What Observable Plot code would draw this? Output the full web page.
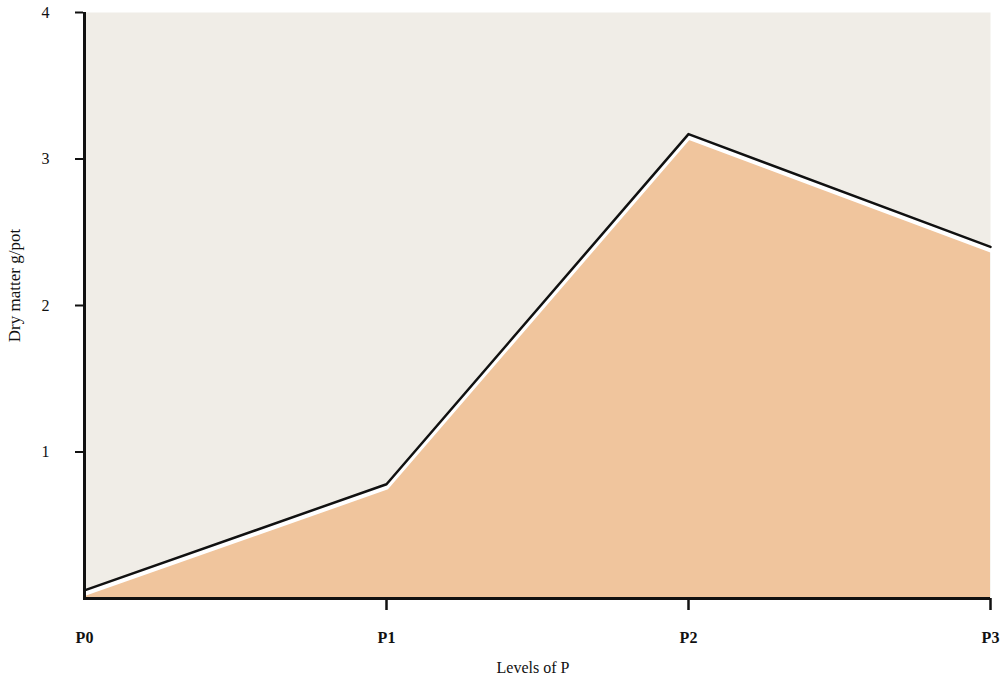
<!DOCTYPE html>
<html>
<head>
<meta charset="utf-8">
<script src="https://cdn.jsdelivr.net/npm/d3@7"></script>
<script src="https://cdn.jsdelivr.net/npm/@observablehq/plot@0.6"></script>
<style>
  html, body { margin: 0; padding: 0; background: #fff; }
  svg { display: block; }
</style>
</head>
<body>
<div id="chart"></div>
<script>
const levels = ["P0", "P1", "P2", "P3"];
const dryMatter = [0.055, 0.78, 3.17, 2.40];
const yTicks = [1, 2, 3, 4];
const data = levels.map((l, i) => ({level: l, value: dryMatter[i]}));

const font = "'Liberation Serif', 'DejaVu Serif', serif";

const chart = Plot.plot({
  width: 1005,
  height: 684,
  marginLeft: 83,
  marginRight: 15,
  marginTop: 12,
  marginBottom: 86,
  style: {fontFamily: font, fontSize: "16px", color: "#111", background: "#fff"},
  x: {type: "point", domain: levels, padding: 0},
  y: {domain: [0, 4]},
  marks: [
    Plot.frame({fill: "#f0ede7", stroke: null}),
    Plot.areaY(data, {x: "level", y: "value", fill: "#f0c59d"}),
    Plot.lineY(data, {x: "level", y: "value", stroke: "#fff", strokeWidth: 5, dy: 3}),
    Plot.lineY(data, {x: "level", y: "value", stroke: "#111", strokeWidth: 2.5}),
    Plot.ruleY([0], {stroke: "#111", strokeWidth: 3}),
    Plot.ruleX([levels[0]], {stroke: "#111", strokeWidth: 3}),
    Plot.axisY({ticks: yTicks, tickSize: 8, tickPadding: 26, tickFormat: d => String(d), label: null, stroke: "#111", strokeWidth: 2, fill: "#111", fontSize: 16}),
    Plot.axisX({ticks: levels.slice(1), tickSize: 12, tickFormat: () => "", label: null, stroke: "#111", strokeWidth: 2.5}),
    Plot.axisX({ticks: levels, tickSize: 0, tickPadding: 33, label: null, fill: "#111", fontSize: 16, fontWeight: "bold"}),
    Plot.text(["Dry matter g/pot"], {frameAnchor: "left", textAnchor: "middle", dx: -69, dy: -20, rotate: -90, fontSize: 17, fill: "#111", style: "letter-spacing: 0.6px"}),
    Plot.text(["Levels of P"], {frameAnchor: "bottom", dy: 74, dx: -4, fontSize: 16, fill: "#111"})
  ]
});
document.getElementById("chart").appendChild(chart);
</script>
</body>
</html>
